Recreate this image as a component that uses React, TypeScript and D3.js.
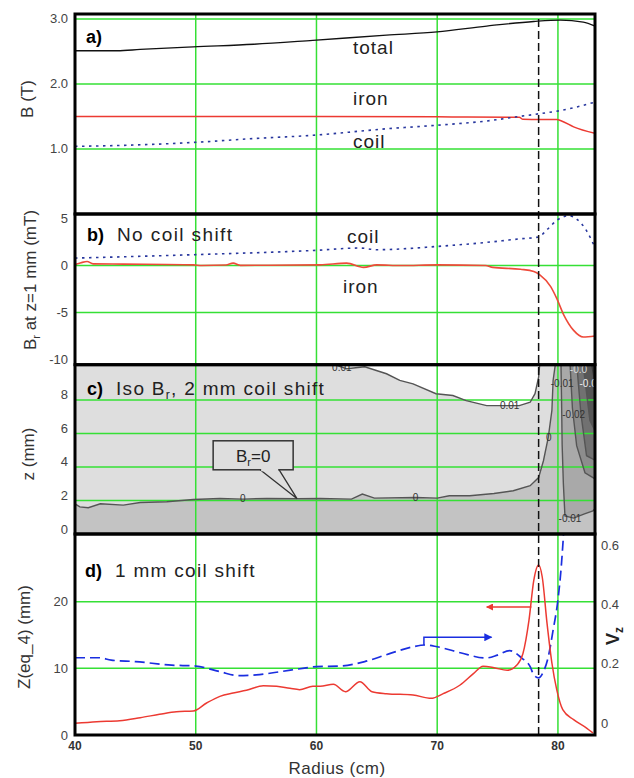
import React from 'react';
import * as d3 from 'd3';

// ---------- data ----------
const radiusTicks = [40, 50, 60, 70, 80];
const aTicks = [1.0, 2.0, 3.0];
const bTicks = [5, 0, -5, -10];
const cTicks = [0, 2, 4, 6, 8];
const dTicksLeft = [0, 10, 20];
const dTicksRight = [0, 0.2, 0.4, 0.6];
const aGrid = [1, 2, 3];
const bGrid = [0, -5];
const cGrid = [2, 4, 6, 8];
const dGrid = [10, 20];
const markerRadius = 78.4;

type P = [number, number];

const aTotal: P[] = [[40, 2.51], [43.5, 2.51], [45.4, 2.53], [49.8, 2.57], [54.8, 2.61], [59.7, 2.67], [65.8, 2.75], [70, 2.8], [74.1, 2.89], [78, 2.96], [80.2, 2.98], [82.1, 2.95], [83.07, 2.89]];
const aIron: P[] = [[40, 1.5], [60, 1.5], [70, 1.495], [72.5, 1.49], [76.8, 1.488], [77.1, 1.455], [79.9, 1.452], [80.3, 1.43], [81.3, 1.34], [83.07, 1.24]];
const aCoil: P[] = [[40, 1.04], [44.8, 1.06], [49.8, 1.1], [54.8, 1.16], [59.7, 1.21], [65.8, 1.31], [70, 1.365], [74.1, 1.43], [76.8, 1.5], [78.4, 1.54], [80.2, 1.59], [83.07, 1.72]];

const bIron: P[] = [[40, 0.1], [40.5, 0.3], [41, 0.43], [41.5, 0.18], [44, 0.15], [49.8, 0.07], [50.5, 0], [52.5, 0.05], [53.1, 0.25], [53.7, 0.02], [60.3, 0.07], [62.5, 0.25], [63.9, -0.2], [65, 0.07], [67, 0], [70, 0.07], [74, 0], [74.6, -0.2], [76.9, -0.4], [78, -0.64], [78.5, -1.0], [79.4, -2.25], [79.9, -3.5], [80.5, -5.3], [81.3, -6.9], [82.1, -7.6], [83.07, -7.5]];
const bCoil: P[] = [[40, 0.79], [49.8, 1.15], [59.7, 1.6], [63.6, 1.86], [65, 1.68], [70, 2.03], [74.1, 2.46], [76.8, 2.83], [78.4, 3.04], [79.1, 3.82], [80, 4.89], [80.9, 5.3], [81.6, 4.89], [82.4, 3.64], [83.07, 1.9]];

const cPos01: P[] = [[61.1, 10.2], [62.5, 9.86], [64.0, 9.98], [65.8, 9.56], [66.9, 9.16], [68.0, 8.96], [69.9, 8.37], [71.3, 8.26], [72.4, 7.96], [74.1, 7.66], [76.8, 7.66], [77.7, 7.86], [78.1, 8.37], [78.4, 9.36], [78.5, 10.2]];
const cZero: P[] = [[40, 1.8], [40.4, 1.62], [41.1, 1.57], [42.1, 1.8], [44.0, 1.72], [45.4, 1.88], [47.6, 1.92], [49.8, 2.06], [52.0, 2.12], [53.9, 2.08], [55.9, 2.12], [58.4, 2.1], [60.3, 2.12], [62.9, 2.08], [63.8, 2.38], [64.8, 2.14], [68.2, 2.18], [70.0, 2.14], [71.0, 2.28], [72.7, 2.28], [74.7, 2.42], [76.3, 2.58], [77.7, 2.88], [78.4, 3.37], [78.8, 4.37], [79.2, 5.77], [79.5, 7.37], [79.6, 9.16], [79.8, 10.2]];
const cNeg01: P[] = [[80.25, 10.2], [80.3, 8.0], [80.35, 5.3], [80.45, 3.0], [80.58, 1.08], [81.3, 0.95], [82.2, 1.2], [82.9, 1.38], [83.07, 1.5]];
const cNeg02: P[] = [[81.0, 10.2], [81.2, 7.5], [81.55, 5.27], [82.24, 3.65], [83.07, 3.29]];
const cNeg03: P[] = [[81.55, 10.2], [81.9, 7.2], [82.37, 4.67], [83.07, 4.4]];
const cNeg04: P[] = [[82.07, 10.2], [82.65, 6.77], [83.07, 6.17]];
const cNeg05: P[] = [[82.65, 10.2], [83.07, 8.56]];
const cNegLevels = [cNeg01, cNeg02, cNeg03, cNeg04, cNeg05];
const cNegFills = ['#a9a9a9', '#8d8d8d', '#717171', '#565656', '#3a3a3a'];
const cLabels: [number, number, string, string][] = [
  [53.9, 2.1, '0', '#333'], [68.2, 2.2, '0', '#333'], [79.25, 5.75, '0', '#333'],
  [76.0, 7.66, '0.01', '#333'], [62.1, 9.95, '0.01', '#333'],
  [80.35, 9.0, '-0.01', '#333'], [82.5, 9.0, '-0.0', '#eee'], [81.3, 7.1, '-0.02', '#333'],
  [81.0, 0.9, '-0.01', '#333'], [81.7, 9.8, '-0.0', '#ddd'],
];
const calloutAnchor: P = [58.4, 2.1];

const dZ: P[] = [[40, 1.75], [41.8, 2.0], [43.7, 2.15], [45.4, 2.6], [47.0, 3.1], [48.4, 3.5], [49.8, 3.6], [50.9, 4.8], [52.0, 5.8], [53.1, 6.3], [54.2, 6.7], [55.6, 7.4], [56.7, 7.3], [57.8, 7.0], [58.6, 6.8], [59.7, 7.3], [60.3, 7.3], [61.4, 7.6], [62.4, 6.5], [63.6, 8.0], [64.6, 6.5], [65.8, 6.2], [68.0, 6.0], [69.5, 5.5], [70.5, 6.2], [71.9, 7.5], [73.0, 9.2], [73.8, 10.3], [74.7, 10.1], [75.8, 9.7], [76.6, 10.5], [77.1, 12.2], [77.6, 17.2], [78.0, 23.2], [78.4, 25.5], [78.7, 23.7], [79.1, 16.7], [79.5, 10.8], [79.9, 6.8], [80.4, 3.8], [81.3, 2.3], [82.4, 1.0], [82.9, 0.3]];
const dVz: P[] = [[40, 0.22], [42, 0.22], [43, 0.212], [45, 0.207], [48, 0.195], [50, 0.192], [52, 0.173], [53.5, 0.16], [55, 0.162], [57, 0.173], [59, 0.185], [60, 0.19], [62, 0.192], [64, 0.207], [66, 0.233], [68, 0.257], [69, 0.263], [70, 0.257], [72, 0.236], [74, 0.219], [75, 0.229], [76, 0.244], [77, 0.219], [77.7, 0.19], [78, 0.162], [78.4, 0.152], [78.8, 0.173], [79.2, 0.223], [79.6, 0.313], [80, 0.415], [80.3, 0.54], [80.5, 0.66], [80.7, 0.8]];
const dRedArrow: P[] = [[77.8, 19.2], [74.1, 19.2]];
const dBlueArrow: P[] = [[68.9, 0.263], [68.9, 0.289], [74.5, 0.289]];

// ---------- layout ----------
const W = 634, H = 778;
const X0 = 75, X1 = 595;
const PA = [14, 214], PB = [214, 364.7], PC = [364.7, 534], PD = [534, 735];
const FONT = "'Liberation Sans', Arial, sans-serif";
const GREEN = '#35e035';
const RED = '#ec3a32';

const x = d3.scaleLinear().domain([40, 83.07]).range([X0, X1]);
const ya = d3.scaleLinear().domain([0, 3.075]).range([PA[1], PA[0]]);
const yb = d3.scaleLinear().domain([-10.55, 5.48]).range([PB[1], PB[0]]);
const yc = d3.scaleLinear().domain([0, 10.1]).range([PC[1], PC[0]]);
const yd = d3.scaleLinear().domain([0, 30.15]).range([PD[1], PD[0]]);
const yv = d3.scaleLinear().domain([0, 0.6]).range([723, 545]);

const lineOf = (ys: d3.ScaleLinear<number, number>, curve = d3.curveMonotoneX) =>
  d3.line<P>().x(d => x(d[0])).y(d => ys(d[1])).curve(curve);
const polyOf = (ys: d3.ScaleLinear<number, number>) =>
  d3.line<P>().x(d => x(d[0])).y(d => ys(d[1]));

function VGrid({ p }: { p: number[] }) {
  return <g>{radiusTicks.filter(t => t > 40).map(t => (
    <line key={t} x1={x(t)} x2={x(t)} y1={p[0]} y2={p[1]} stroke={GREEN} strokeWidth={1.5} />
  ))}</g>;
}
function HGrid({ vals, ys }: { vals: number[]; ys: d3.ScaleLinear<number, number> }) {
  return <g>{vals.map(v => (
    <line key={v} x1={X0} x2={X1} y1={ys(v)} y2={ys(v)} stroke={GREEN} strokeWidth={1.5} />
  ))}</g>;
}
function LeftTicks({ vals, ys, fmt, dy = 0 }: { vals: number[]; ys: d3.ScaleLinear<number, number>; fmt: (v: number) => string; dy?: number }) {
  return <g>{vals.map(v => (
    <text key={v} x={68} y={ys(v) + dy} textAnchor="end" dominantBaseline="central" fontSize={13} fill="#444" fontFamily={FONT}>{fmt(v)}</text>
  ))}</g>;
}

export default function App() {
  const clip = (id: string, p: number[]) => (
    <clipPath id={id}><rect x={X0} y={p[0]} width={X1 - X0} height={p[1] - p[0]} /></clipPath>
  );
  const poly = polyOf(yc);
  const zeroFill = poly([...cZero, [83.07, 10.2], [83.07, 0], [40, 0]])!;
  const posFill = poly([...cPos01])! + 'Z';
  const ax = x(calloutAnchor[0]), ay = yc(calloutAnchor[1]);
  const bx = ax - 84, by = ay - 58, bw = 80, bh = 29;

  return (
    <svg width={W} height={H} style={{ position: 'absolute', left: 0, top: 0, background: '#fff' }} fontFamily={FONT}>
      <defs>
        {clip('ca', PA)}{clip('cb', PB)}{clip('cc', PC)}{clip('cd', PD)}
        <marker id="arrR" viewBox="0 0 10 10" refX="9" refY="5" markerWidth="9" markerHeight="7" orient="auto-start-reverse" markerUnits="userSpaceOnUse">
          <path d="M0,0 L10,5 L0,10 z" fill={RED} />
        </marker>
        <marker id="arrB" viewBox="0 0 10 10" refX="9" refY="5" markerWidth="10" markerHeight="8" orient="auto" markerUnits="userSpaceOnUse">
          <path d="M0,0 L10,5 L0,10 z" fill="#1a2ee0" />
        </marker>
      </defs>
      <rect x={0} y={0} width={W} height={H} fill="#fff" />

      {/* Panel a */}
      <g clipPath="url(#ca)">
        <HGrid vals={aGrid} ys={ya} />
        <VGrid p={PA} />
        <path d={lineOf(ya)(aTotal)!} fill="none" stroke="#111" strokeWidth={1.3} />
        <path d={lineOf(ya)(aIron)!} fill="none" stroke={RED} strokeWidth={1.5} />
        <path d={lineOf(ya)(aCoil)!} fill="none" stroke="#28379e" strokeWidth={1.6} strokeDasharray="2.5,4.5" />
      </g>

      {/* Panel b */}
      <g clipPath="url(#cb)">
        <HGrid vals={bGrid} ys={yb} />
        <VGrid p={PB} />
        <path d={lineOf(yb)(bCoil)!} fill="none" stroke="#28379e" strokeWidth={1.6} strokeDasharray="2.5,4.5" />
        <path d={lineOf(yb)(bIron)!} fill="none" stroke="#ee4a3a" strokeWidth={1.6} />
      </g>

      {/* Panel c */}
      <g clipPath="url(#cc)">
        <rect x={X0} y={PC[0]} width={X1 - X0} height={PC[1] - PC[0]} fill="#dedede" />
        <path d={posFill} fill="#ffffff" />
        <path d={zeroFill} fill="#c3c3c3" />
        {cNegLevels.map((c, i) => (
          <path key={i} d={poly([...c, [83.07, 10.2]])! + 'Z'} fill={cNegFills[i]} />
        ))}
        <HGrid vals={cGrid} ys={yc} />
        <VGrid p={PC} />
        {[cPos01, cZero, ...cNegLevels].map((c, i) => (
          <path key={i} d={lineOf(yc, d3.curveLinear)(c)!} fill="none" stroke="#555" strokeWidth={1.4} />
        ))}
        {cLabels.map((l, i) => (
          <text key={i} x={x(l[0])} y={yc(l[1])} textAnchor="middle" dominantBaseline="central" fontSize={10} fill={l[3]}>{l[2]}</text>
        ))}
        {/* callout */}
        <path d={`M${bx + 47},${by + bh} L${ax},${ay} L${bx + 66},${by + bh}`} fill="#dedede" stroke="#333" strokeWidth={1.3} />
        <rect x={bx} y={by} width={bw} height={bh} fill="#dedede" stroke="#333" strokeWidth={1.5} />
        <rect x={bx + 48} y={by + bh - 1.5} width={17} height={3} fill="#dedede" />
        <text x={bx + bw / 2} y={by + 21} textAnchor="middle" fontSize={17} fill="#222">B<tspan fontSize={11} dy={4}>r</tspan><tspan dy={-4}>=0</tspan></text>
      </g>

      {/* Panel d */}
      <g clipPath="url(#cd)">
        <HGrid vals={dGrid} ys={yd} />
        <VGrid p={PD} />
        <path d={d3.line<P>().x(d => x(d[0])).y(d => yv(d[1])).curve(d3.curveMonotoneX)(dVz)!} fill="none" stroke="#1a2ee0" strokeWidth={1.7} strokeDasharray="10,5" />
        <path d={lineOf(yd)(dZ)!} fill="none" stroke={RED} strokeWidth={1.5} />
        <path d={d3.line<P>().x(d => x(d[0])).y(d => yd(d[1]))(dRedArrow)!} fill="none" stroke={RED} strokeWidth={1.5} markerEnd="url(#arrR)" />
        <path d={d3.line<P>().x(d => x(d[0])).y(d => yv(d[1]))(dBlueArrow)!} fill="none" stroke="#1a2ee0" strokeWidth={1.5} markerEnd="url(#arrB)" />
      </g>

      {/* vertical dashed marker */}
      <line x1={x(markerRadius)} x2={x(markerRadius)} y1={ya(3.0)} y2={PD[1]} stroke="#111" strokeWidth={1.5} strokeDasharray="8,4" />

      {/* frames */}
      {[PA, PB, PC, PD].map((p, i) => (
        <rect key={i} x={X0} y={p[0]} width={X1 - X0} height={p[1] - p[0]} fill="none" stroke="#000" strokeWidth={3} />
      ))}

      {/* left ticks */}
      <LeftTicks vals={aTicks} ys={ya} fmt={v => v.toFixed(1)} />
      <LeftTicks vals={bTicks} ys={yb} fmt={v => String(v)} />
      <LeftTicks vals={cTicks} ys={yc} fmt={v => String(v)} dy={-5} />
      <LeftTicks vals={dTicksLeft} ys={yd} fmt={v => String(v)} />
      {/* right ticks */}
      {dTicksRight.map(v => (
        <text key={v} x={601} y={yv(v)} dominantBaseline="central" fontSize={13} fill="#444">{v === 0 ? '0' : v.toFixed(1)}</text>
      ))}
      {/* bottom ticks */}
      {radiusTicks.map(t => (
        <text key={t} x={x(t)} y={746} textAnchor="middle" dominantBaseline="central" fontSize={12} fontWeight="bold" fill="#333">{t}</text>
      ))}
      <text x={337} y={774} textAnchor="middle" fontSize={17} fill="#333" letterSpacing={0.5}>Radius (cm)</text>

      {/* axis titles */}
      <text transform="translate(33,99) rotate(-90)" textAnchor="middle" fontSize={17} fill="#333">B (T)</text>
      <text transform="translate(36,280) rotate(-90)" textAnchor="middle" fontSize={17} fill="#333">B<tspan fontSize={11} dy={4}>r</tspan><tspan dy={-4}> at z=1 mm (mT)</tspan></text>
      <text transform="translate(34,454) rotate(-90)" textAnchor="middle" fontSize={17} fill="#333">z (mm)</text>
      <text transform="translate(30,637) rotate(-90)" textAnchor="middle" fontSize={17} fill="#333">Z(eq_4) (mm)</text>
      <text transform="translate(619,636) rotate(-90)" textAnchor="middle" fontSize={18} fontWeight="bold" fill="#222">V<tspan fontSize={12} dy={4}>z</tspan></text>

      {/* panel titles */}
      <text x={86} y={43} fontSize={18} fontWeight="900" fill="#000">a)</text>
      <text x={353} y={54} fontSize={19} fill="#222" letterSpacing={1}>total</text>
      <text x={353} y={105} fontSize={19} fill="#222" letterSpacing={1}>iron</text>
      <text x={353} y={148} fontSize={19} fill="#222" letterSpacing={1}>coil</text>

      <text x={87} y={241} fontSize={18} fontWeight="900" fill="#000">b)</text>
      <text x={117} y={241} fontSize={19} fill="#222" letterSpacing={1.4}>No coil shift</text>
      <text x={347} y={243} fontSize={19} fill="#222" letterSpacing={1}>coil</text>
      <text x={343} y={293} fontSize={19} fill="#222" letterSpacing={1}>iron</text>

      <text x={87} y={395} fontSize={18} fontWeight="900" fill="#000">c)</text>
      <text x={116} y={395} fontSize={19} fill="#222" letterSpacing={1.3}>Iso B<tspan fontSize={12} dy={4}>r</tspan><tspan dy={-4}>, 2 mm coil shift</tspan></text>

      <text x={85} y={577} fontSize={18} fontWeight="900" fill="#000">d)</text>
      <text x={115} y={577} fontSize={19} fill="#222" letterSpacing={1.3}>1 mm coil shift</text>
    </svg>
  );
}
